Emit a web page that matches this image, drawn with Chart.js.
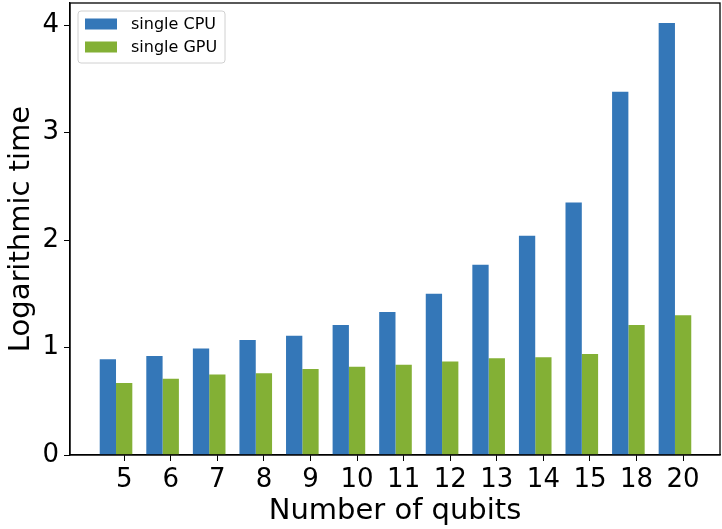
<!DOCTYPE html>
<html>
<head>
<meta charset="utf-8">
<script src="https://cdn.jsdelivr.net/npm/chart.js@4"></script>
<style>
    html, body { margin: 0; padding: 0; background: #fff; }
    #wrap { width: 722px; height: 529px; }
</style>
</head>
<body>
<div id="wrap"><canvas id="qubitChart"></canvas></div>
<script>
const qubits = ['5', '6', '7', '8', '9', '10', '11', '12', '13', '14', '15', '18', '20'];
const cpuTime = [0.89, 0.92, 0.99, 1.07, 1.11, 1.21, 1.33, 1.50, 1.77, 2.04, 2.35, 3.38, 4.02];
const gpuTime = [0.67, 0.71, 0.75, 0.76, 0.80, 0.82, 0.84, 0.87, 0.90, 0.91, 0.94, 1.21, 1.30];
const yTicks = [0, 1, 2, 3, 4];
const seriesNames = ['single CPU', 'single GPU'];

const blue = '#3477b8';
const green = '#83b035';

// legend drawn inside the plot, like matplotlib's upper left box
const boxLegend = {
    id: 'boxLegend',
    afterDraw(chart) {
        const ctx = chart.ctx;
        const a = chart.chartArea;
        const x = a.left + 8, y = a.top + 8, w = 147, h = 52;
        ctx.save();
        ctx.fillStyle = 'rgba(255,255,255,0.8)';
        ctx.strokeStyle = '#d0d0d0';
        ctx.lineWidth = 1;
        ctx.beginPath();
        ctx.roundRect(x, y, w, h, 3);
        ctx.fill();
        ctx.stroke();
        const colors = [blue, green];
        ctx.font = '16px "DejaVu Sans"';
        ctx.textBaseline = 'middle';
        seriesNames.forEach(function(name, i) {
            const cy = y + 13 + i * 23;
            ctx.fillStyle = colors[i];
            ctx.fillRect(x + 7, cy - 5.5, 32, 11);
            ctx.fillStyle = '#000';
            ctx.fillText(name, x + 53, cy + 1);
        });
        ctx.restore();
    }
};

// full black frame round the plot
const frame = {
    id: 'frame',
    afterDatasetsDraw(chart) {
        const ctx = chart.ctx;
        const a = chart.chartArea;
        ctx.save();
        ctx.strokeStyle = '#000';
        ctx.lineWidth = 1.3;
        ctx.strokeRect(a.left, a.top, a.right - a.left, a.bottom - a.top);
        ctx.restore();
    }
};

new Chart(document.getElementById('qubitChart'), {
    type: 'bar',
    data: {
        datasets: [{
            label: seriesNames[0],
            data: cpuTime.map((v, i) => ({ x: i, y: v })),
            backgroundColor: blue,
            borderWidth: 0,
        }, {
            label: seriesNames[1],
            data: gpuTime.map((v, i) => ({ x: i, y: v })),
            backgroundColor: green,
            borderWidth: 0,
        }]
    },
    options: {
        responsive: true,
        maintainAspectRatio: false,
        animation: false,
        layout: { padding: { top: 3, right: 2, left: 0, bottom: 0 } },
        datasets: { bar: { categoryPercentage: 0.7, barPercentage: 1.0 } },
        plugins: {
            legend: { display: false },
            tooltip: { enabled: false },
        },
        scales: {
            x: {
                type: 'linear',
                offset: false,
                min: -0.988,
                max: 12.967,
                afterBuildTicks: axis => { axis.ticks = qubits.map((q, i) => ({ value: i + 0.175 })); },
                afterFit: s => { s.height = 74; s.paddingLeft = 0; s.paddingRight = 0; },
                ticks: {
                    autoSkip: false,
                    maxRotation: 0,
                    padding: 4,
                    color: '#000',
                    font: { family: 'DejaVu Sans', size: 26 },
                    callback: (v, idx) => qubits[idx],
                },
                grid: { offset: false, drawOnChartArea: false, drawTicks: true, tickLength: 6, color: '#000' },
                border: { display: true, color: '#000', width: 1.3 },
                title: {
                    display: true,
                    text: 'Number of qubits',
                    color: '#000',
                    font: { family: 'DejaVu Sans', size: 29 },
                    padding: 0,
                },
            },
            y: {
                min: 0,
                max: 4.205,
                afterBuildTicks: axis => { axis.ticks = yTicks.map(v => ({ value: v })); },
                afterFit: s => { s.width = 70; s.paddingTop = 0; s.paddingBottom = 0; },
                ticks: {
                    padding: 5,
                    color: '#000',
                    font: { family: 'DejaVu Sans', size: 26 },
                },
                grid: { drawOnChartArea: false, drawTicks: true, tickLength: 6, color: '#000' },
                border: { display: true, color: '#000', width: 1.3 },
                title: {
                    display: true,
                    text: 'Logarithmic time',
                    color: '#000',
                    font: { family: 'DejaVu Sans', size: 29 },
                    padding: 4,
                },
            }
        }
    },
    plugins: [frame, boxLegend]
});
</script>
</body>
</html>
